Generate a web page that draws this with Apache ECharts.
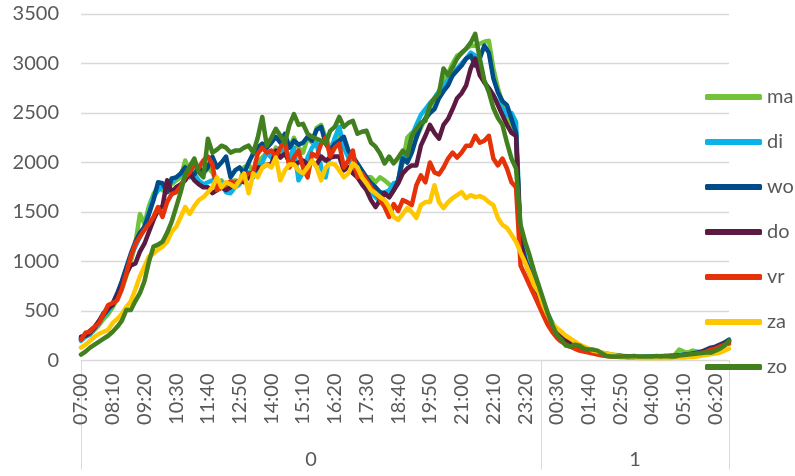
<!DOCTYPE html>
<html>
<head>
<meta charset="utf-8">
<script src="https://cdn.jsdelivr.net/npm/echarts@6/dist/echarts.min.js"></script>
<style>
html,body{margin:0;padding:0;background:#fff;}
#chart{width:795px;height:476px;}
</style>
</head>
<body>
<div id="chart"></div>
<script>
// Time categories: 10-minute steps from 07:00 to 06:50 next day
var startHour = 7, stepMinutes = 10, pointCount = 144;
var categories = [];
for (var k = 0; k < pointCount; k++) {
  var m = (startHour * 60 + k * stepMinutes) % 1440;
  var hh = Math.floor(m / 60), mm = m % 60;
  categories.push((hh < 10 ? '0' : '') + hh + ':' + (mm < 10 ? '0' : '') + mm);
}
var labelEvery = 7;
var dayLabels = ['0', '1'];
var dayBoundaries = [0, 101.5, 143];

var seriesNames = ['ma', 'di', 'wo', 'do', 'vr', 'za', 'zo'];

var ma = [
 230,250,270,310,360,420,470,
 540,620,720,850,1000,1180,1480,
 1380,1560,1680,1760,1720,1800,1780,
 1820,1850,2020,1900,1950,1920,1880,
 1950,1900,1780,1820,1760,1800,1820,
 1800,1950,1980,1900,2000,2050,2100,
 2050,2150,2100,2200,2150,2250,2150,
 2100,2250,2200,2350,2380,2250,2150,
 2200,2300,2150,2100,2050,1950,1900,
 1850,1850,1800,1850,1820,1780,1750,
 1820,2000,2250,2300,2250,2350,2450,
 2550,2650,2720,2800,2900,3000,3080,
 3100,3150,3180,3180,3200,3220,3230,
 2950,2750,2600,2450,2350,2300,1150,
 1000,900,790,680,560,460,370,
 300,250,210,180,160,140,120,
 110,100,90,80,70,60,55,
 50,45,40,40,35,35,40,
 40,40,45,45,50,55,110,
 90,80,100,90,85,90,110,
 120,140,160,190
];
var di = [
 200,240,260,320,380,450,500,
 570,660,780,920,1060,1150,1250,
 1350,1500,1650,1720,1760,1780,1800,
 1850,1880,1900,1850,1880,1820,1780,
 1800,1820,1750,1800,1700,1690,1750,
 1780,1850,1900,1850,1950,2000,2100,
 2050,2100,2150,2100,2050,2150,1820,
 1900,2050,2150,2200,1950,1850,2100,
 2250,2360,2150,2050,1950,1850,1800,
 1750,1700,1650,1600,1700,1720,1790,
 1800,2100,2050,2270,2380,2480,2540,
 2600,2650,2720,2780,2830,2880,2950,
 3000,3050,3110,3080,2950,2810,2750,
 2680,2610,2550,2480,2500,2410,1250,
 1050,920,800,700,580,470,380,
 310,260,220,190,160,140,120,
 105,95,85,75,65,55,50,
 45,40,40,35,35,35,40,
 40,40,40,45,45,50,55,
 60,65,70,80,90,100,110,
 130,150,170,200
];
var wo = [
 220,260,300,340,400,460,520,
 580,680,800,940,1080,1200,1290,
 1350,1480,1620,1800,1790,1700,1840,
 1850,1890,1950,1900,1880,1950,1900,
 1950,2060,1950,2000,2060,1850,1920,
 1950,1890,2000,2090,2150,2190,2150,
 2200,2260,2200,2290,2150,2220,2180,
 2200,2260,2220,2330,2360,2190,2120,
 2190,2220,2260,2120,2060,1990,1920,
 1850,1790,1750,1700,1690,1650,1720,
 1820,2040,2000,2100,2250,2380,2440,
 2500,2540,2650,2720,2780,2880,2930,
 2980,3050,3080,2980,3050,3180,3110,
 2850,2710,2620,2580,2440,2300,1200,
 1020,900,780,680,570,460,370,
 300,250,210,180,150,130,115,
 100,90,80,70,60,55,50,
 45,40,40,35,35,35,35,
 35,40,40,40,45,45,50,
 55,60,70,80,90,110,130,
 140,160,180,210
];
var dO = [
 240,250,280,330,400,480,530,
 560,660,750,880,960,980,1100,
 1180,1300,1420,1520,1560,1820,1700,
 1750,1780,1820,1890,1820,1780,1750,
 1750,1690,1720,1750,1720,1750,1790,
 1820,1800,1850,1900,1950,1950,1980,
 1980,2120,2050,2090,2000,1980,2000,
 2020,1980,2000,1980,2060,2020,2050,
 2060,2060,1920,1950,1890,1850,1780,
 1720,1620,1550,1620,1690,1650,1720,
 1790,1890,1940,1970,1970,2170,2270,
 2380,2300,2240,2380,2440,2540,2650,
 2700,2780,2950,3050,2880,2810,2750,
 2680,2580,2480,2380,2300,2270,1200,
 1000,880,760,660,550,450,360,
 290,240,200,170,150,130,110,
 100,90,80,70,60,50,45,
 40,40,35,30,30,30,30,
 30,35,35,40,40,45,50,
 55,60,65,75,85,100,120,
 130,150,170,190
];
var vr = [
 210,280,290,340,380,470,560,
 580,610,720,880,1050,1180,1250,
 1320,1380,1450,1550,1450,1600,1680,
 1700,1760,1850,1900,1980,1950,2020,
 2060,1980,1720,1750,1780,1810,1790,
 1800,1850,1890,1900,2090,2150,2100,
 2120,2060,2150,2220,1950,2050,2120,
 1950,1850,2090,2060,2190,2250,2060,
 2150,2190,1950,2020,2120,1850,1890,
 1820,1750,1690,1620,1550,1450,1580,
 1510,1620,1600,1570,1770,1870,1800,
 2000,1900,1880,1950,2040,2100,2050,
 2100,2170,2170,2270,2200,2220,2270,
 2040,1970,2040,1940,1800,1750,960,
 860,760,660,560,460,360,290,
 230,190,160,140,120,100,90,
 80,70,60,50,45,40,40,
 35,35,30,30,30,30,30,
 30,30,35,35,40,40,45,
 50,55,60,65,75,90,110,
 120,140,160,170
];
var za = [
 130,160,200,240,270,290,310,
 380,420,470,540,600,720,850,
 950,1050,1080,1120,1150,1200,1300,
 1350,1450,1550,1480,1560,1620,1650,
 1700,1750,1850,1750,1800,1780,1750,
 1820,1890,1690,1890,1850,1950,1980,
 1950,2050,1820,1920,1980,1980,1920,
 1890,1950,2020,1950,1820,1950,1990,
 1980,1920,1850,1890,1990,1950,1850,
 1790,1720,1690,1650,1620,1550,1450,
 1420,1480,1540,1500,1440,1570,1600,
 1600,1770,1600,1540,1600,1640,1670,
 1700,1640,1670,1650,1660,1640,1600,
 1570,1440,1370,1340,1270,1200,1090,
 990,880,760,690,560,460,370,
 330,290,250,220,190,160,140,
 120,100,90,80,70,60,50,
 40,35,30,30,25,25,25,
 25,25,25,25,25,30,30,
 30,35,35,40,50,55,65,
 70,80,100,120
];
var zo = [
 60,90,130,160,190,220,250,
 290,340,400,510,510,600,680,
 800,1000,1150,1170,1200,1290,1400,
 1550,1700,1880,1960,2040,1900,1850,
 2240,2100,2130,2170,2150,2100,2120,
 2120,2150,2170,2100,2250,2460,2170,
 2250,2340,2270,2200,2380,2490,2380,
 2390,2290,2260,2240,2220,2190,2320,
 2360,2460,2360,2400,2420,2290,2310,
 2320,2200,2160,2090,1990,2060,1990,
 2050,2120,2070,2270,2340,2400,2420,
 2580,2650,2700,2950,2880,2960,3050,
 3110,3150,3210,3300,3050,2830,2710,
 2550,2450,2380,2200,2040,1940,1370,
 1200,1060,900,760,620,480,360,
 260,210,150,140,160,150,120,
 110,110,100,70,45,40,40,
 40,40,40,45,40,40,40,
 40,45,40,45,40,40,50,
 55,60,65,70,75,80,80,
 100,120,150,200
];
var seriesData = [ma, di, wo, dO, vr, za, zo];
var seriesColors = ['#72C23A', '#0AB4E8', '#004C8A', '#5C1A42', '#E63209', '#FFC700', '#42801F'];

var FONT = 'Lato';
var TXT = '#595959';
var GRIDC = '#D9D9D9';

var chart = echarts.init(document.getElementById('chart'), null, {renderer: 'canvas'});
var series = seriesNames.map(function (n, idx) {
  return {
    name: n,
    type: 'line',
    xAxisIndex: 0,
    yAxisIndex: 0,
    data: seriesData[idx],
    symbol: 'none',
    showSymbol: false,
    smooth: false,
    color: seriesColors[idx],
    lineStyle: {width: 4.5, color: seriesColors[idx], cap: 'round', join: 'round'},
    emphasis: {disabled: true},
    z: 2 + idx
  };
});

chart.setOption({
  animation: false,
  backgroundColor: '#ffffff',
  grid: {left: 81, right: 66, top: 14, bottom: 115.5, containLabel: false},
  legend: {
    orient: 'vertical',
    left: 700,
    top: 82,
    itemWidth: 57,
    itemHeight: 6,
    itemGap: 25,
    icon: 'roundRect',
    data: seriesNames,
    textStyle: {fontFamily: FONT, fontSize: 20, color: TXT, lineHeight: 20},
    selectedMode: false
  },
  xAxis: [
    {
      type: 'category',
      data: categories,
      boundaryGap: false,
      axisLine: {show: true, lineStyle: {color: GRIDC, width: 1}},
      axisTick: {show: false},
      splitLine: {show: false},
      axisLabel: {
        interval: function (i) { return i % labelEvery === 0; },
        rotate: 90,
        margin: 13,
        fontFamily: FONT,
        fontSize: 20,
        color: TXT,
        hideOverlap: false
      }
    },
    {
      type: 'value',
      min: 0,
      max: pointCount - 1,
      position: 'bottom',
      gridIndex: 0,
      axisLine: {show: false},
      splitLine: {show: false},
      axisTick: {
        show: true,
        customValues: dayBoundaries,
        length: 109,
        inside: false,
        lineStyle: {color: GRIDC, width: 1}
      },
      axisLabel: {
        show: true,
        customValues: [(dayBoundaries[0] + dayBoundaries[1]) / 2, (dayBoundaries[1] + dayBoundaries[2]) / 2],
        formatter: function (v) { return v < dayBoundaries[1] ? dayLabels[0] : dayLabels[1]; },
        margin: 89,
        fontFamily: FONT,
        fontSize: 20,
        color: TXT
      }
    }
  ],
  yAxis: {
    type: 'value',
    min: 0,
    max: 3500,
    interval: 500,
    axisLine: {show: false},
    axisTick: {show: false},
    splitLine: {show: true, lineStyle: {color: GRIDC, width: 1.3}},
    axisLabel: {margin: 22, fontFamily: FONT, fontSize: 20, color: TXT,
      formatter: function (v) { return String(v); }}
  },
  series: series
});
</script>
</body>
</html>
